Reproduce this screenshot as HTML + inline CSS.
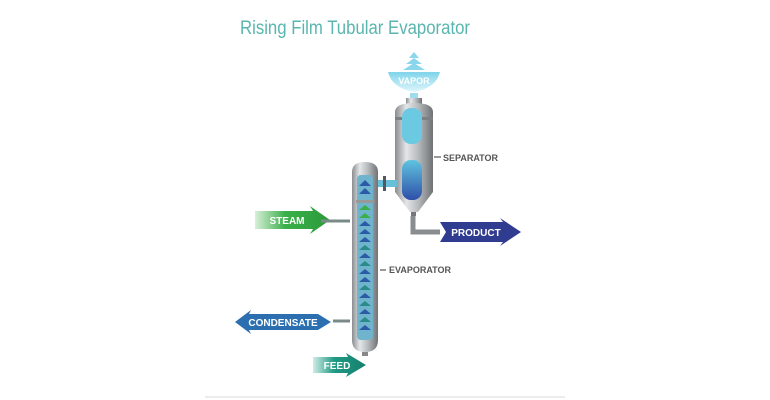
<!DOCTYPE html>
<html><head><meta charset="utf-8"><style>
html,body{margin:0;padding:0;background:#fff;}
svg{display:block;font-family:"Liberation Sans",sans-serif;}
</style></head><body>
<svg width="770" height="400" viewBox="0 0 770 400">
<defs>
<linearGradient id="metal" x1="0" x2="1" y1="0" y2="0">
<stop offset="0" stop-color="#8a8d90"/><stop offset="0.3" stop-color="#e4e6e8"/><stop offset="0.6" stop-color="#b9bcbf"/><stop offset="1" stop-color="#6f7275"/>
</linearGradient>
<linearGradient id="green" x1="0" x2="1"><stop offset="0" stop-color="#d8f0d8"/><stop offset="0.4" stop-color="#3bb04a"/><stop offset="1" stop-color="#2a9a3a"/></linearGradient>
<linearGradient id="feed" x1="0" x2="1"><stop offset="0" stop-color="#d0ece6"/><stop offset="0.4" stop-color="#1f9a84"/><stop offset="1" stop-color="#15806e"/></linearGradient>
<linearGradient id="vap" x1="0" x2="0" y1="0" y2="1"><stop offset="0" stop-color="#7fd4ea"/><stop offset="1" stop-color="#e0f6fb"/></linearGradient>
<linearGradient id="sepwin" x1="0" x2="0" y1="0" y2="1"><stop offset="0" stop-color="#5fc3e0"/><stop offset="1" stop-color="#2f4fa8"/></linearGradient>
</defs>
<text x="240" y="34" font-size="19" fill="#5ab5ae" textLength="230" lengthAdjust="spacingAndGlyphs">Rising Film Tubular Evaporator</text>

<g fill="#8ad6ec">
<polygon points="409,58 414,52 419,58"/><polygon points="406,64 414,58 422,64"/><polygon points="403,70 414,63 425,70"/>
</g>
<path d="M388,72 L440,72 Q436,88 414,92 Q392,88 388,72Z" fill="url(#vap)"/>
<text x="414" y="84" font-size="9" font-weight="bold" fill="#fff" text-anchor="middle">VAPOR</text>
<rect x="410" y="93" width="8" height="5" fill="#9fdcee"/>

<rect x="406" y="98" width="16" height="6" fill="url(#metal)"/>
<path d="M395,112 Q395,103 414,103 Q433,103 433,112 L433,192 L418,212 L410,212 L395,192Z" fill="url(#metal)"/>
<rect x="395" y="117" width="38" height="3" fill="#7d8083"/>
<rect x="402" y="108" width="20" height="36" rx="9" fill="#6cc9e2"/>
<rect x="402" y="160" width="20" height="40" rx="9" fill="url(#sepwin)"/>
<line x1="434" y1="157" x2="441" y2="157" stroke="#777" stroke-width="1.5"/>
<text x="443" y="161" font-size="9" font-weight="bold" fill="#555">SEPARATOR</text>
<rect x="411" y="212" width="5" height="4" fill="#777"/>
<path d="M413,216 L413,232 L440,232" stroke="#8a8d90" stroke-width="5" fill="none"/>
<path d="M440,222 L503,222 L500,218 L521,232 L500,246 L503,242 L440,242 L446,232Z" fill="#2f3c8f"/>
<text x="476" y="236" font-size="10" font-weight="bold" fill="#fff" text-anchor="middle">PRODUCT</text>

<rect x="377" y="180" width="20" height="7" fill="#67bfd8"/>
<rect x="383" y="176" width="3" height="15" fill="#556"/>

<path d="M352,172 Q352,162 365,162 Q378,162 378,172 L378,340 Q378,352 365,352 Q352,352 352,340Z" fill="url(#metal)"/>
<rect x="357" y="175" width="16" height="165" rx="4" fill="#6fb4cc"/>
<g fill="#2d5aa8">
<polygon points="359,186 365,180 371,186"/><polygon points="359,194 365,188 371,194"/>
</g>
<g fill="#2b5ba6">
<polygon points="359,226 365,221 371,226"/><polygon points="359,234 365,229 371,234"/><polygon points="359,242 365,237 371,242"/><polygon points="359,250 365,245 371,250" fill="#2a8a8a"/><polygon points="359,258 365,253 371,258"/><polygon points="359,266 365,261 371,266" fill="#2a8a8a"/><polygon points="359,274 365,269 371,274"/><polygon points="359,282 365,277 371,282"/><polygon points="359,290 365,285 371,290" fill="#2a8a8a"/><polygon points="359,298 365,293 371,298"/><polygon points="359,306 365,301 371,306" fill="#2a8a8a"/><polygon points="359,314 365,309 371,314"/><polygon points="359,322 365,317 371,322" fill="#2a8a8a"/><polygon points="359,330 365,325 371,330"/>
</g>
<g fill="#3bb04a"><polygon points="359,210 365,205 371,210"/><polygon points="359,218 365,213 371,218"/></g>
<rect x="356" y="200" width="18" height="3" fill="#999"/>
<rect x="362" y="352" width="6" height="4" fill="#888"/>
<line x1="380" y1="270" x2="386" y2="270" stroke="#777" stroke-width="1.5"/>
<text x="389" y="273" font-size="9" font-weight="bold" fill="#555">EVAPORATOR</text>

<path d="M255,211 L313,211 L310,206 L330,220 L310,234 L313,229 L255,229Z" fill="url(#green)"/>
<text x="287" y="224" font-size="10" font-weight="bold" fill="#fff" text-anchor="middle">STEAM</text>
<line x1="321" y1="221" x2="350" y2="221" stroke="#7a8a88" stroke-width="3"/>
<path d="M235,322 L251,310 L249,314 L318,314 L331,322 L318,330 L249,330 L251,334Z" fill="#2b6fb0"/>
<text x="283" y="326" font-size="10" font-weight="bold" fill="#fff" text-anchor="middle">CONDENSATE</text>
<line x1="333" y1="321" x2="350" y2="321" stroke="#7a8a88" stroke-width="3"/>
<path d="M313,357 L348,357 L346,353 L366,365 L346,377 L348,373 L313,373Z" fill="url(#feed)"/>
<text x="337" y="369" font-size="10" font-weight="bold" fill="#fff" text-anchor="middle">FEED</text>

<line x1="205" y1="397" x2="565" y2="397" stroke="#d8d8d8" stroke-width="1"/>
</svg>
</body></html>
